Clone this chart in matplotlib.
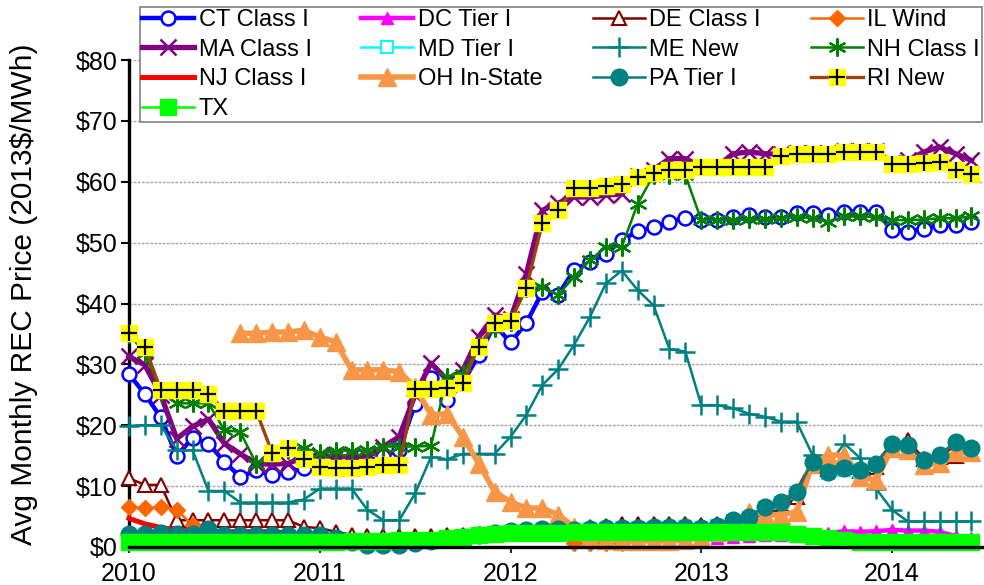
import matplotlib
matplotlib.use("Agg")
import matplotlib.pyplot as plt
import numpy as np
from matplotlib.ticker import FuncFormatter, MultipleLocator

plt.rcParams["font.family"] = ["Liberation Sans", "DejaVu Sans"]

nan = np.nan

# monthly values, Jan 2010 .. Jun 2014 (2013$/MWh)
ct = [28.4, 25.1, 21.3, 15.0, 17.9, 17.0, 14.0, 11.5, 12.6, 11.8, 12.4, 13.0,
      13.5, 13.5, 13.8, 14.0, 15.0, 16.0, 23.5, 27.8, 24.1, 27.0, 31.5, 36.5,
      33.6, 36.8, 41.9, 41.4, 45.5, 46.8, 48.2, 50.4, 51.9, 52.5, 53.4, 54.1,
      53.7, 53.7, 54.2, 54.5, 54.2, 54.2, 54.8, 54.8, 54.5, 55.1, 55.1, 55.1,
      52.1, 51.8, 52.3, 52.9, 52.9, 53.4]
dc = [nan] * 20 + [1.3, 1.5, 1.8, 2.0,
      2.2, 2.2, 2.2, 2.2, 2.3, 2.3, 2.3, 2.3, 2.3, 2.3, 2.2, 1.6,
      1.5, 1.5, 1.6, 1.8, 1.9, 2.0, 2.0, 2.1, 2.3, 2.6, 2.5, 2.6,
      2.8, 2.7, 2.7, 2.5, 1.8, 1.5]
de = [11.3, 10.2, 10.2, 4.4, 4.4, 4.4, 4.4, 4.4, 4.4, 4.4, 4.4, 3.3,
      3.1, 2.5, 2.0, 1.8, 1.8, 1.8, 1.8, 1.8, 2.0, 2.0, 2.2, 2.3,
      2.5, 2.7, 2.8, 2.9, 3.0, 3.3, 3.5, 3.8, 3.8, 3.8, 3.8, 3.8,
      3.6, 3.8, 4.5, 5.0, 6.2, 7.0, 8.2, 13.5, 12.8, 13.2, 12.5, 13.2,
      16.5, 17.5, 14.5, 14.8, 15.0, 15.6]
il = [6.6, 6.4, 6.6, 6.1, 3.6] + [nan] * 23 + [0.7, 0.7, 0.7, 0.7] + [nan] * 22
ma = [31.3, 29.9, 25.0, 17.8, 19.8, 21.0, 17.0, 15.3, 13.7, 13.6, 13.7, 14.8,
      15.1, 14.8, 14.9, 14.8, 16.5, 18.1, 25.0, 30.2, 27.5, 29.0, 34.5, 38.1,
      37.5, 44.9, 55.3, 56.5, 57.5, 57.5, 57.8, 58.0, 61.0, 62.0, 63.8, 63.8,
      62.5, 62.5, 64.6, 64.9, 64.6, 64.5, 64.7, 64.7, 64.7, 65.0, 65.0, 65.0,
      63.0, 63.5, 64.9, 65.7, 64.6, 63.5]
md = [1.5] * 12 + [1.5, 1.2, 0.8, 0.5, 0.4, 0.5, 0.8, 1.2, 1.5, 1.8, 2.1, 2.3,
      2.5, 2.7, 2.8, 2.8, 2.8, 2.9, 3.0, 3.1, 3.1, 3.2, 3.2, 3.3,
      3.2, 3.4, 4.2, 4.8, 6.4, 7.2, 8.9, 13.7, 12.1, 12.6, 12.3, 13.4,
      16.7, 16.4, 14.0, 14.8, 17.0, 15.9]
me = [19.9, 20.0, 20.0, 15.9, 15.9, 9.2, 9.2, 7.3, 7.3, 7.3, 7.3, 7.8,
      9.6, 9.6, 9.6, 6.1, 4.4, 4.4, 8.8, 14.8, 14.4, 15.3, 15.3, 15.3,
      18.1, 21.7, 26.6, 29.2, 33.2, 37.8, 43.3, 45.4, 42.2, 39.7, 32.5, 32.1,
      23.3, 23.3, 22.8, 21.9, 21.4, 20.6, 20.6, 15.1, 13.5, 17.0, 14.6, 9.6,
      6.1, 4.2, 4.2, 4.2, 4.2, 4.2]
nh = [35.0, 31.8, 25.5, 23.6, 23.6, 23.6, 19.2, 18.9, 13.7, 15.5, 16.0, 16.3,
      15.4, 15.8, 15.8, 15.9, 16.5, 16.5, 16.5, 16.6, 28.0, 28.5, 33.0, 35.9,
      37.0, 42.5, 42.7, 41.4, 44.4, 47.1, 49.3, 49.3, 56.4, 61.1, 61.1, 61.1,
      53.7, 53.7, 53.7, 53.8, 53.8, 54.0, 54.2, 54.0, 53.4, 54.3, 54.3, 54.2,
      53.7, 53.7, 53.8, 54.0, 54.0, 54.3]
nj = [4.7, 3.8, 3.2, 2.8, 2.6, 2.5, 2.5, 2.5, 2.5, 2.5, 2.3, 2.0,
      1.8, 1.5, 1.2, 1.0, 1.0, 1.0, 1.0, 1.2, 1.4, 1.6, 1.8, 2.0,
      2.2, 2.4, 2.5, 2.5, 2.5, 2.6, 2.7, 2.8, 2.8, 2.9, 3.0, 3.0,
      3.0, 3.2, 4.2, 4.8, 6.4, 7.2, 9.0, 13.8, 12.2, 12.7, 12.4, 13.5,
      16.8, 16.5, 14.0, 14.9, 17.0, 16.0]
oh = [nan] * 7 + [35.1, 35.1, 35.3, 35.3, 35.6,
      34.5, 33.7, 29.1, 29.1, 29.1, 28.8, 26.3, 21.7, 21.9, 18.1, 13.7, 9.1,
      7.4, 6.4, 6.4, 5.3, 3.3, 1.5, 1.2, 1.0, 1.0, 1.0, 1.0, 1.2,
      1.5, 2.5, 4.0, 5.8, 5.3, 5.3, 5.8, 13.7, 15.1, 15.1, 11.5, 11.0,
      16.2, 16.0, 13.5, 13.8, 15.6, 15.6]
pa = [2.2, 2.2, 2.3, 2.2, 2.1, 2.9, 2.0, 2.0, 2.0, 2.0, 2.0, 2.0,
      1.9, 1.5, 0.8, 0.4, 0.3, 0.4, 0.6, 1.0, 1.3, 1.6, 2.0, 2.3,
      2.6, 2.8, 2.9, 2.9, 2.8, 3.0, 3.2, 3.2, 3.2, 3.3, 3.3, 3.3,
      3.2, 3.5, 4.4, 5.0, 6.6, 7.4, 9.1, 14.0, 12.4, 12.9, 12.6, 13.7,
      17.0, 16.7, 14.3, 15.1, 17.3, 16.2]
ri = [35.1, 32.9, 25.8, 25.8, 25.8, 25.2, 22.4, 22.4, 22.4, 15.5, 16.2, 14.4,
      13.2, 13.0, 13.0, 13.2, 13.5, 13.5, 25.9, 25.9, 26.2, 27.0, 32.9, 36.8,
      37.2, 42.6, 53.2, 55.4, 59.0, 59.0, 59.3, 59.6, 60.8, 61.5, 61.9, 61.9,
      62.4, 62.4, 62.4, 62.4, 62.4, 64.2, 64.6, 64.5, 64.5, 64.9, 64.9, 64.9,
      62.9, 62.9, 63.0, 63.3, 62.0, 61.2]
tx = [0.9] * 12 + [0.9, 0.9, 1.0, 1.0, 1.0, 1.1, 1.1, 1.2, 1.4, 1.6, 1.9, 2.1,
      2.3, 2.3, 2.3, 2.3, 2.4, 2.5, 2.5, 2.5, 2.5, 2.5, 2.5, 2.5,
      2.5, 2.5, 2.5, 2.5, 2.5, 2.4, 2.2, 1.8, 1.4, 1.1, 0.9, 0.9,
      0.9, 0.9, 0.9, 0.9, 0.9, 0.9]

years = [2010, 2011, 2012, 2013, 2014]

x = 2010 + np.arange(len(ct)) / 12.0

fig = plt.figure(figsize=(9.84, 5.85), dpi=100)
ax = fig.add_axes([129 / 984, 1 - 547 / 585, 854 / 984, 487 / 585])

kw = dict(clip_on=False)
h = {}
h["CT Class I"], = ax.plot(x, ct, color="#0000FF", lw=3.2, marker="o", ms=10,
                           mfc="white", mec="#0000FF", mew=1.8, **kw)
h["DC Tier I"], = ax.plot(x, dc, color="#FF00FF", lw=3.2, marker="^", ms=9,
                          mfc="#FF00FF", mec="#FF00FF", **kw)
h["DE Class I"], = ax.plot(x, de, color="#800000", lw=1.8, marker="^", ms=10,
                           mfc="white", mec="#800000", mew=1.5, **kw)
h["IL Wind"], = ax.plot(x, il, color="#FF6600", lw=1.8, marker="D", ms=8,
                        mfc="#FF6600", mec="#FF6600", **kw)
h["MA Class I"], = ax.plot(x, ma, color="#800080", lw=3.8, marker="x", ms=11,
                           mec="#800080", mew=1.8, **kw)
h["MD Tier I"], = ax.plot(x, md, color="#00FFFF", lw=1.8, marker="s", ms=9,
                          mfc="white", mec="#00FFFF", mew=1.5, **kw)
h["ME New"], = ax.plot(x, me, color="#008080", lw=1.8, marker="+", ms=14,
                       mec="#008080", mew=1.8, **kw)
h["NH Class I"], = ax.plot(x, nh, color="#008000", lw=1.8, marker=(6, 2, 0), ms=13,
                           mec="#008000", mew=1.6, **kw)
h["NJ Class I"], = ax.plot(x, nj, color="#FF0000", lw=3.6, **kw)
h["OH In-State"], = ax.plot(x, oh, color="#F79646", lw=4.0, marker="^", ms=13,
                            mfc="#F79646", mec="#F79646", **kw)
h["PA Tier I"], = ax.plot(x, pa, color="#008080", lw=1.8, marker="o", ms=12,
                          mfc="#008080", mec="#008080", **kw)
ri_line, = ax.plot(x, ri, color="#A0410D", lw=2.4, marker="s", ms=12,
                   mfc="#FFFF00", mec="#FFFF00", **kw)
ri_plus, = ax.plot(x, ri, ls="none", marker="+", ms=11, mec="black", mew=1.6, **kw)
h["RI New"] = (ri_line, ri_plus)
h["TX"], = ax.plot(x, tx, color="#00FF00", lw=1.8, marker="s", ms=11,
                   mfc="#00FF00", mec="#00FF00", **kw)

ax.set_xlim(2010, 2010 + 854 / 190.75)
ax.set_ylim(0, 80)
ax.set_xticks(years)
ax.set_xticklabels([str(y) for y in years])
ax.yaxis.set_major_locator(MultipleLocator(10))
ax.yaxis.set_major_formatter(FuncFormatter(lambda v, p: "\\$%d" % v))
ax.tick_params(axis="both", labelsize=18, direction="out", colors="black")
ax.tick_params(axis="y", length=5.5, width=1.5, pad=3)
ax.tick_params(axis="x", length=4.5, width=1.2, pad=6)

for g in range(10, 81, 10):
    ax.axhline(g, color="#A6A6A6", lw=1.0, ls=(0, (2, 1)), zorder=0)

for s in ["top", "right"]:
    ax.spines[s].set_visible(False)
ax.spines["left"].set_linewidth(2.4)
ax.spines["bottom"].set_linewidth(2.4)
ax.spines["left"].set_zorder(0.5)

ax.set_ylabel("Avg Monthly REC Price (2013\\$/MWh)", fontsize=21.5)
ax.yaxis.set_label_coords(-0.106, 0.52)

order = ["CT Class I", "MA Class I", "NJ Class I", "TX",
         "DC Tier I", "MD Tier I", "OH In-State",
         "DE Class I", "ME New", "PA Tier I",
         "IL Wind", "NH Class I", "RI New"]
leg = fig.legend([h[k] for k in order], order, loc="upper left",
                 bbox_to_anchor=(140 / 984, 1 - 122 / 585, 842 / 984, 115 / 585),
                 mode="expand", ncol=4,
                 fontsize=17, frameon=True, fancybox=False, framealpha=1,
                 edgecolor="#808080", handlelength=2.2, handletextpad=0.2,
                 columnspacing=1.0, labelspacing=0.33, borderpad=0.08,
                 borderaxespad=0)
leg.get_frame().set_linewidth(1.2)

fig.savefig("out.png", dpi=100)
